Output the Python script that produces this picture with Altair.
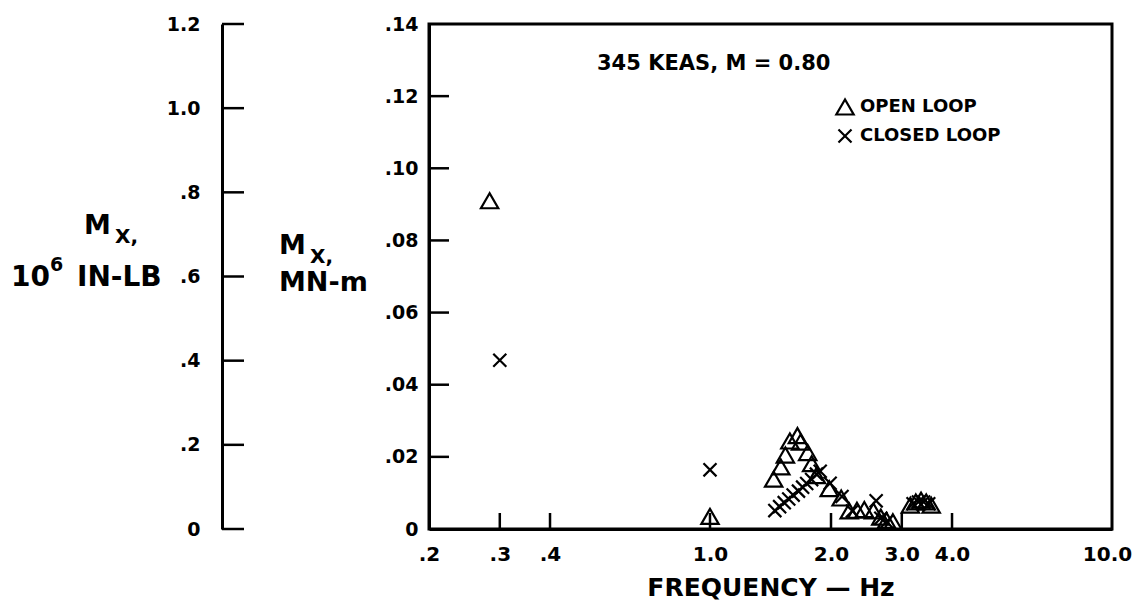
import altair as alt
import pandas as pd

# ---------------- data ----------------
open_freq = [0.283, 1.0, 1.44, 1.50, 1.54, 1.58, 1.65, 1.68, 1.75, 1.79, 1.84,
             1.98, 2.12, 2.22, 2.32, 2.42, 2.55, 2.66, 2.75, 2.85,
             3.15, 3.25, 3.35, 3.45, 3.55]
open_mx = [0.091, 0.0035, 0.0138, 0.0172, 0.0205, 0.0244, 0.0259, 0.0241, 0.0212, 0.0181, 0.0148,
           0.0112, 0.0086, 0.0050, 0.0052, 0.0054, 0.0050, 0.0033, 0.0024, 0.0020,
           0.0066, 0.0075, 0.0080, 0.0075, 0.0066]

closed_freq = [0.30, 1.0, 1.45, 1.49, 1.53, 1.57, 1.61, 1.66, 1.70, 1.74, 1.79, 1.84, 1.88,
               1.99, 2.13, 2.26, 2.59, 2.66, 2.75, 3.2, 3.3, 3.4, 3.5]
closed_mx = [0.0468, 0.0164, 0.0051, 0.0062, 0.0073, 0.0083, 0.0094, 0.0105, 0.0116, 0.0126, 0.0137,
             0.0152, 0.0160, 0.0127, 0.0090, 0.0050, 0.0078, 0.0030, 0.0020, 0.0070, 0.0075, 0.0075, 0.0070]

series_names = ["OPEN LOOP", "CLOSED LOOP"]
x_tick_values = [0.2, 0.3, 0.4, 1.0, 2.0, 3.0, 4.0, 10.0]
x_inner_ticks = [0.3, 0.4, 1.0, 2.0, 3.0, 4.0]
y_tick_values = [0, 0.02, 0.04, 0.06, 0.08, 0.10, 0.12, 0.14]
y_inner_ticks = [0.02, 0.04, 0.06, 0.08, 0.10, 0.12]
left_tick_values = [0, 0.2, 0.4, 0.6, 0.8, 1.0, 1.2]

W, H = 683, 505
LEFT_AXIS_OFFSET = 207
XPATH = "M-1,-1L1,1M-1,1L1,-1"
FONT = "DejaVu Sans"

df = pd.DataFrame({
    "freq": open_freq + closed_freq,
    "mx": open_mx + closed_mx,
    "series": [series_names[0]] * len(open_freq) + [series_names[1]] * len(closed_freq),
})

xscale = alt.Scale(type="log", domain=[0.2, 10], nice=False)
yscale = alt.Scale(domain=[0, 0.14], nice=False, zero=True)

x_label_expr = "datum.value < 1 ? replace(format(datum.value, '.1f'), '0.', '.') : format(datum.value, '.1f')"
y_label_expr = "datum.value == 0 ? '0' : replace(format(datum.value, '.2f'), '0.', '.')"
left_label_expr = ("datum.value == 0 ? '0' : (datum.value < 1 ? replace(format(datum.value, '.1f'), '0.', '.')"
                   " : format(datum.value, '.1f'))")

legend = alt.Legend(
    title=None, orient="none", legendX=406, legendY=73,
    labelFont=FONT, labelFontSize=18, labelFontWeight="bold", labelColor="black",
    symbolStrokeWidth=2.2, symbolStrokeColor="black", rowPadding=6, labelOffset=5,
)

points = alt.Chart(df).mark_point(filled=False, color="black", strokeWidth=2.2, opacity=1).encode(
    x=alt.X("freq:Q", scale=xscale,
            axis=alt.Axis(orient="bottom", values=x_tick_values, labelExpr=x_label_expr,
                          title="FREQUENCY  —  Hz", labelFontSize=20,
                          labelOffset={"condition": {"test": "datum.value == 10", "value": -5}, "value": 0},
                          titleFont=FONT, titleFontSize=25, titleFontWeight="bold", titleColor="black",
                          titlePadding=11, labelPadding=15, ticks=False, grid=False,
                          domainColor="black", domainWidth=3, labelFlush=False)),
    y=alt.Y("mx:Q", scale=yscale,
            axis=alt.Axis(orient="left", values=y_tick_values, labelExpr=y_label_expr, title=None,
                          labelPadding=11, ticks=False, grid=False,
                          domainColor="black", domainWidth=3, labelFlush=False)),
    shape=alt.Shape("series:N", scale=alt.Scale(domain=series_names, range=["triangle-up", XPATH]),
                    legend=legend),
    size=alt.Size("series:N", scale=alt.Scale(domain=series_names, range=[300, 170]), legend=legend),
)

x_ticks_layer = alt.Chart(pd.DataFrame({"f": x_inner_ticks})).mark_rule(color="black", strokeWidth=2.5).encode(
    x=alt.X("f:Q", scale=xscale, axis=None),
    y=alt.value(H), y2=alt.value(H - 16),
)

y_ticks_layer = alt.Chart(pd.DataFrame({"v": y_inner_ticks})).mark_rule(color="black", strokeWidth=2.5).encode(
    y=alt.Y("v:Q", scale=yscale, axis=None),
    x=alt.value(0), x2=alt.value(20),
)

left_axis_layer = alt.Chart(pd.DataFrame({"v": left_tick_values})).mark_rule(color="black", strokeWidth=2.5).encode(
    y=alt.Y("v:Q", scale=alt.Scale(domain=[0, 1.2], nice=False),
            axis=alt.Axis(orient="left", offset=LEFT_AXIS_OFFSET, values=left_tick_values,
                          labelExpr=left_label_expr, title=None, ticks=False, grid=False,
                          labelPadding=22, domainColor="black", domainWidth=3, labelFlush=False)),
    x=alt.value(-LEFT_AXIS_OFFSET), x2=alt.value(-LEFT_AXIS_OFFSET + 22),
)

one = pd.DataFrame({"k": [0]})


def label(text, x, y, size):
    return alt.Chart(one).mark_text(
        text=text, font=FONT, fontSize=size, fontWeight="bold", color="black",
        align="left", baseline="alphabetic",
    ).encode(x=alt.value(x), y=alt.value(y))


texts = [
    label("345 KEAS, M = 0.80", 168, 46, 21),
    # left title: Mx, 10^6 IN-LB
    label("M", -345, 210, 27),
    label("X,", -314, 219, 20),
    label("10", -418, 262, 28),
    label("6", -379, 247, 19),
    label("IN-LB", -352, 262, 28),
    # right title: Mx, MN-m
    label("M", -150, 230, 27),
    label("X,", -119, 239, 20),
    label("MN-m", -150, 267, 27),
]

chart = alt.layer(
    left_axis_layer, y_ticks_layer, x_ticks_layer, points, *texts
).resolve_scale(
    y="independent"
).resolve_axis(
    x="independent", y="independent"
).properties(
    width=W, height=H,
    autosize=alt.AutoSizeParams(type="none"),
    padding={"left": 421, "top": 16, "right": 21, "bottom": 72},
).configure_view(
    stroke="black", strokeWidth=3
).configure_axis(
    labelFont=FONT, labelFontSize=19, labelFontWeight="bold", labelColor="black",
)

chart.save("out.html", embed_options={"renderer": "svg", "actions": False})
